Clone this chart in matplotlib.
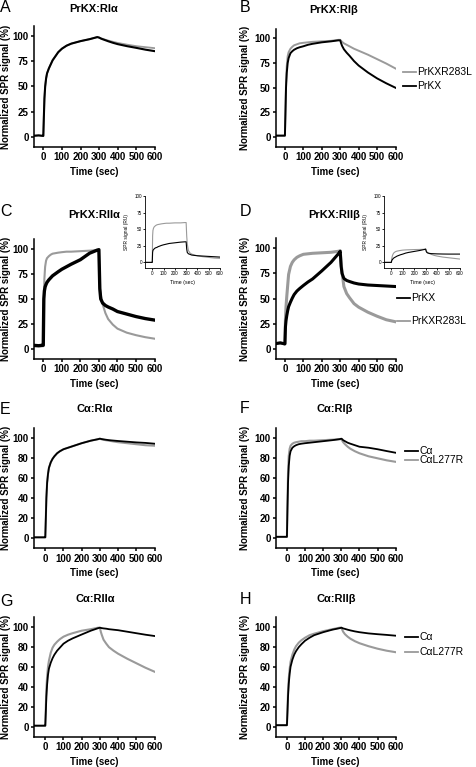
import matplotlib
matplotlib.use("Agg")
import matplotlib.pyplot as plt
from matplotlib.lines import Line2D

W, H, DPI = 477, 767, 100
plt.rcParams["font.family"] = ["Liberation Sans", "DejaVu Sans"]

GRAY = "#9a9a9a"
BLACK = "#000000"

# sample times (sec) shared by every trace
t = [-60, -25, -1, 0, 3, 6, 10, 15, 20, 30, 40, 50, 65, 80, 100, 125, 150, 200,
     250, 290, 300, 305, 310, 320, 335, 350, 375, 400, 450, 500, 550, 600]

# A  PrKX:RIa
a_prkx = [1, 1.5, 1, 1, 20, 38, 50, 58, 63, 68, 72, 76, 80, 84, 87.5, 90.5, 92.5, 95,
          97, 99, 98.5, 98, 97.5, 96.8, 95.8, 94.8, 93.3, 92, 90, 88.3, 86.5, 85]
a_mut = [1, 1.5, 1, 1, 20, 38, 50, 58, 63, 68, 72, 76, 80, 84, 87.5, 90.5, 92.5, 95,
         97, 99, 98.5, 98.2, 97.8, 97.2, 96.3, 95.5, 94.3, 93.2, 91.5, 90, 89, 88]
# B  PrKX:RIb
b_prkx = [1.5, 1.5, 1.5, 1.5, 25, 50, 65, 75, 80, 85, 87, 88.5, 90, 91, 92, 93.5, 94.5,
          96, 97, 98, 98, 95, 92.5, 89, 85.5, 82.5, 77, 72.5, 65.5, 59.5, 54.5, 50]
b_mut = [1.5, 1.5, 1.5, 1.5, 28, 55, 72, 82, 86, 89.5, 91.5, 93, 94, 95, 95.5, 96, 96.5,
         97, 97.5, 98.5, 98.5, 97.5, 96.5, 95, 93.5, 92, 89.5, 87.5, 83.5, 79, 74.5, 69.5]
# C  PrKX:RIIa (normalized + raw RU inset)
c_prkx = [4, 3.5, 4, 4, 50, 58, 62, 64.5, 66.5, 69, 71, 73, 75, 77, 79.5, 82, 84.5, 89,
          95.5, 98.5, 99, 60, 50, 46, 43.5, 42, 40, 37.5, 35, 32.5, 30.5, 29]
c_mut = [3, 3, 3, 3, 45, 70, 82, 88, 90.5, 92.5, 94, 95, 95.5, 96, 96.5, 97, 97, 97.5,
         98, 98.5, 98.5, 62, 54, 45, 36, 30, 24.5, 20.5, 16.5, 14, 12, 10.5]
c_ru_prkx = [0, 0, 0, 0, 15, 18, 19, 20, 21, 22, 22.5, 23.5, 24.5, 25.5, 26.5, 27.5, 28.5,
             29.5, 30.5, 31, 31, 20, 15, 13, 12, 11, 10.5, 10, 9.5, 9, 8.5, 8]
c_ru_mut = [0, 0, 0, 0, 40, 48, 51, 53, 54, 55.5, 56.5, 57, 57.5, 58, 58.5, 59, 59, 59.5,
            59.5, 60, 60, 40, 28, 18, 14, 12.5, 11, 10, 8.5, 7.5, 6.5, 6]
# D  PrKX:RIIb (normalized + raw RU inset)
d_prkx = [5, 6, 5, 5, 22, 28, 33, 38, 42, 46.5, 50.5, 54, 57.5, 60, 63, 66.5, 69.5, 77.5,
          86, 94.5, 97, 82, 75, 70, 68, 67, 65.5, 64.5, 63.5, 63, 62.5, 62]
d_mut = [5, 6, 5, 5, 30, 42, 52, 63, 74, 82, 86, 88.5, 91, 92.5, 94, 94.5, 95, 95.5, 96,
         97, 97.5, 85, 76, 62, 55, 51, 45, 41.5, 36.5, 32.5, 29, 27]
d_ru_prkx = [0, 0, 0, 0, 2.5, 3.5, 4.5, 5.5, 6.5, 7.5, 8.5, 9.5, 10.5, 11.5, 12.5, 14, 15,
             16.5, 18, 19.5, 20, 16.5, 15, 14, 13.5, 13.2, 13, 12.8, 12.6, 12.5, 12.5, 12.5]
d_ru_mut = [0, 0, 0, 0, 5, 8, 10.5, 12.5, 14, 15.5, 16.5, 17, 17.5, 18, 18.5, 18.8, 19,
            19.3, 19.5, 19.8, 20, 17.5, 16, 14.5, 13, 12, 10.5, 9.5, 8, 7, 6, 5]
# E  Ca:RIa
e_ca = [1, 1, 1, 1, 20, 40, 55, 64, 70, 75.5, 79, 81.5, 84.5, 86.5, 88.5, 90, 91.5, 94.5,
        97, 98.5, 99, 98.8, 98.6, 98.3, 97.9, 97.5, 97.1, 96.7, 96, 95.3, 94.8, 94]
e_mut = [1, 1, 1, 1, 20, 40, 55, 64, 70, 75.5, 79, 81.5, 84.5, 86.5, 88.5, 90, 91.5, 94.5,
         97, 98.5, 99, 98.6, 98.3, 97.9, 97.4, 97, 96.2, 95.5, 94.5, 93.5, 92.5, 92]
# F  Ca:RIb
f_ca = [1.5, 1.5, 1.5, 1.5, 30, 55, 72, 82, 86.5, 90, 91.5, 92.5, 93.5, 94, 94.5, 95, 95.5,
        96.5, 97.5, 98.5, 99, 98.5, 97.5, 96.5, 95, 94, 92.5, 91, 90, 88.5, 86.7, 85]
f_mut = [1.5, 1.5, 1.5, 1.5, 35, 65, 82, 89, 92, 94, 95, 95.5, 96, 96.5, 96.5, 97, 97,
         97.5, 98, 98.5, 98.5, 97, 95.5, 93.5, 91, 89, 86.5, 84.5, 81.5, 79.5, 77.5, 76]
# G  Ca:RIIa
g_ca = [1, 1, 1, 1, 15, 30, 42, 52, 58, 64, 68.5, 72, 76, 79, 83, 86, 88.3, 92.2, 96,
        98.5, 99, 98.8, 98.6, 98.3, 98, 97.5, 97, 96.5, 95, 93.5, 92, 90.7]
g_mut = [1, 1, 1, 1, 20, 38, 50, 60, 66, 74, 79, 82, 85, 87.5, 90, 92, 93.5, 96, 97.5,
         99, 99, 95, 92, 87, 83, 79.5, 76, 73, 68, 63.5, 59, 55]
# H  Ca:RIIb
h_ca = [1.5, 1.5, 1.5, 1.5, 15, 30, 43, 53, 60, 67, 72, 75.5, 79.5, 82.5, 86, 89, 91.5,
        94.5, 97, 98.5, 99, 98.7, 98.3, 97.8, 97, 96.3, 95.3, 94.5, 93.3, 92.5, 91.8, 91]
h_mut = [1.5, 1.5, 1.5, 1.5, 18, 35, 48, 58, 65, 72, 77, 80.5, 84, 86.5, 89, 91.5, 93,
         95.5, 97.5, 99, 99, 97, 95, 92.5, 90, 88, 85.5, 83.5, 80.5, 78, 76, 74.5]

fig = plt.figure(figsize=(W / DPI, H / DPI), dpi=DPI)


def px_axes(x0, y0, x1, y1):
    return fig.add_axes([x0 / W, 1 - y1 / H, (x1 - x0) / W, (y1 - y0) / H])


def fig_text(x, y, s, **kw):
    fig.text(x / W, 1 - y / H, s, **kw)


def style_axes(ax, xmin, ymin, ymax, yticks, lw=1.1, size=7, bold=True, tick_len=2.5):
    ax.set_xlim(xmin, 600)
    ax.set_ylim(ymin, ymax)
    ax.set_xticks(range(0, 601, 100))
    ax.set_yticks(yticks)
    ax.patch.set_alpha(0)
    for s in ("top", "right"):
        ax.spines[s].set_visible(False)
    for s in ("left", "bottom"):
        ax.spines[s].set_linewidth(lw)
    ax.tick_params(width=lw, length=tick_len, labelsize=size, pad=1.2)
    if bold:
        for lab in ax.get_xticklabels() + ax.get_yticklabels():
            lab.set_fontweight("bold")


def main_panel(rect, xmin, yticks, ylab_x, traces):
    ax = px_axes(*rect)
    for y, color, lw in traces:
        ax.plot(t, y, color=color, lw=lw, solid_joinstyle="round")
    style_axes(ax, xmin, -10, 110, yticks)
    ax.set_xlabel("Time (sec)", fontsize=7, fontweight="bold")
    ax.set_ylabel("Normalized SPR signal (%)", fontsize=7, fontweight="bold")
    ax.xaxis.set_label_coords(0.5, -0.165)
    ax.yaxis.set_label_coords(ylab_x, 0.5)
    return ax


def inset_panel(rect, xmin, traces, ylab_x):
    ax = px_axes(*rect)
    for y, color in traces:
        ax.plot(t, y, color=color, lw=0.8)
    style_axes(ax, xmin, -8, 100, [0, 25, 50, 75, 100], lw=0.6, size=3.3,
               bold=False, tick_len=1.3)
    ax.set_xlabel("Time (sec)", fontsize=3.8)
    ax.set_ylabel("SPR signal (RU)", fontsize=3.5)
    ax.xaxis.set_label_coords(0.5, -0.17)
    ax.yaxis.set_label_coords(ylab_x, 0.5)
    return ax


def legend(x0, entries):
    for y, color, label in entries:
        fig.add_artist(Line2D([x0 / W, (x0 + 13.5) / W], [1 - y / H, 1 - y / H],
                              color=color, lw=1.3))
        fig_text(x0 + 14.5, y, label, fontsize=7.5, va="center", ha="left")


ticks25 = [0, 25, 50, 75, 100]
ticks20 = [0, 20, 40, 60, 80, 100]

main_panel((34, 26, 155, 147), -50, ticks25, -0.19,
           [(a_mut, GRAY, 1.3), (a_prkx, BLACK, 1.5)])
main_panel((275.7, 28.5, 395.5, 147), -50, ticks25, -0.214,
           [(b_mut, GRAY, 1.4), (b_prkx, BLACK, 1.4)])
main_panel((34, 238.6, 154.5, 359.3), -50, ticks25, -0.19,
           [(c_mut, GRAY, 1.5), (c_prkx, BLACK, 2.4)])
main_panel((275.7, 238.2, 395.5, 359), -50, ticks25, -0.214,
           [(d_mut, GRAY, 2.2), (d_prkx, BLACK, 2.2)])
main_panel((34, 427.6, 154.5, 548.4), -62, ticks20, -0.19,
           [(e_mut, GRAY, 1.5), (e_ca, BLACK, 1.3)])
main_panel((275.7, 427.6, 395.7, 548.4), -62, ticks20, -0.214,
           [(f_mut, GRAY, 1.5), (f_ca, BLACK, 1.3)])
main_panel((34, 616.7, 154.5, 736.7), -62, ticks20, -0.19,
           [(g_mut, GRAY, 1.5), (g_ca, BLACK, 1.3)])
main_panel((275.7, 616.7, 395.7, 736.7), -62, ticks20, -0.214,
           [(h_mut, GRAY, 1.5), (h_ca, BLACK, 1.3)])

inset_panel((145.5, 196, 220, 267.7), -60, [(c_ru_mut, GRAY), (c_ru_prkx, BLACK)], -0.22)
inset_panel((384.5, 196, 460, 267.7), -60, [(d_ru_mut, GRAY), (d_ru_prkx, BLACK)], -0.22)

titles = [(93.5, 9, "PrKX:RI\u03b1"), (334, 10, "PrKX:RI\u03b2"),
          (94, 215, "PrKX:RII\u03b1"), (334, 215, "PrKX:RII\u03b2"),
          (95, 409.5, "C\u03b1:RI\u03b1"), (335, 408.5, "C\u03b1:RI\u03b2"),
          (95, 598.5, "C\u03b1:RII\u03b1"), (336, 599.5, "C\u03b1:RII\u03b2")]
for x, y, s in titles:
    fig_text(x, y, s, fontsize=8, fontweight="bold", ha="center", va="center")

letters = [(0, 8, "A"), (240, 8, "B"), (0, 211.5, "C"), (240, 211.5, "D"),
           (0, 410, "E"), (240, 408.5, "F"), (0, 601.5, "G"), (240, 600, "H")]
for x, y, s in letters:
    fig_text(x, y, s, fontsize=11.5, ha="left", va="center")

legend(403, [(71.7, GRAY, "PrKXR283L"), (86, BLACK, "PrKX")])
legend(397, [(298.3, BLACK, "PrKX"), (320.7, GRAY, "PrKXR283L")])
legend(405, [(450.7, BLACK, "C\u03b1"), (460, GRAY, "C\u03b1L277R")])
legend(405, [(636.7, BLACK, "C\u03b1"), (651.7, GRAY, "C\u03b1L277R")])

fig.savefig("out.png", dpi=DPI)
